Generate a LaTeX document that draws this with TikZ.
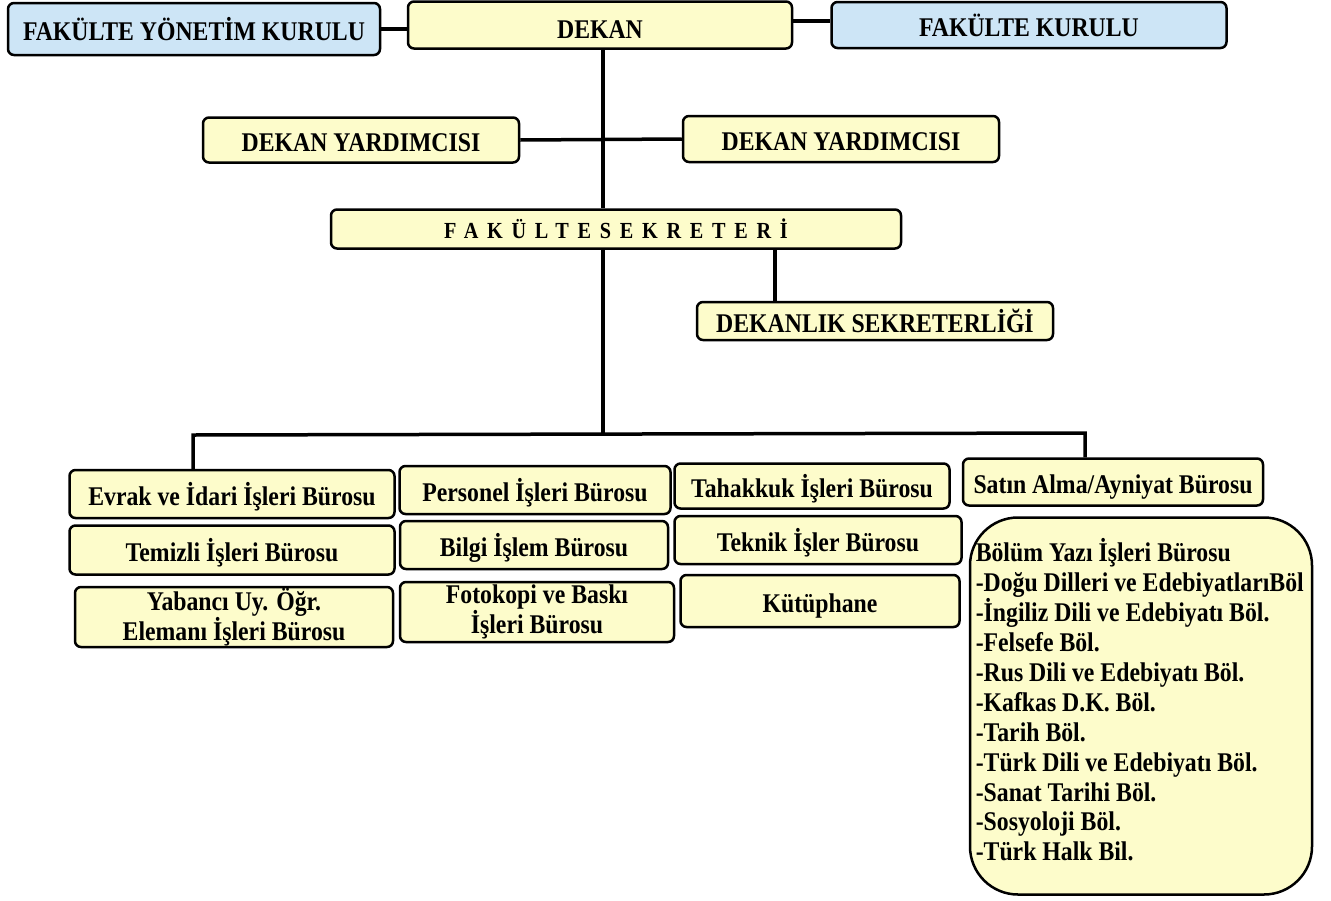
\documentclass[tikz,border=0pt]{standalone}
\usepackage{fontspec}
\setmainfont{Liberation Serif}[FakeStretch=0.88]
\definecolor{yel}{HTML}{FDFCCB}
\definecolor{blu}{HTML}{CDE5F6}
\begin{document}
\begin{tikzpicture}[x=1pt,y=-1pt,line width=3.5pt]
		\tikzset{unit/.style={draw,line width=2.5pt,rounded corners=6pt,fill=yel,
			inner sep=0pt,font=\bfseries\fontsize{27}{30}\selectfont,align=center}}
		\tikzset{row/.style={unit,text height=26pt,text depth=4pt}}
		\tikzset{board/.style={row,fill=blu}}
		\useasboundingbox (0,0) rectangle (1331,900);

		% top row
		\node[board,minimum width=372,minimum height=52](fyk) at (194,29){FAKÜLTE YÖNETİM KURULU};
		\node[row,minimum width=384,minimum height=47,text height=30pt](dekan) at (600,25){DEKAN};
		\node[board,minimum width=395,minimum height=46](fk) at (1029,25){FAKÜLTE KURULU};
		\draw (fyk.east) -- (dekan.west |- fyk.east);
		\draw (dekan.east |- 0,21) -- (fk.west |- 0,21);

		% yardimcilar, sekreter
		\node[row,minimum width=316,minimum height=45](dyl) at (361,140){DEKAN YARDIMCISI};
		\node[row,minimum width=316,minimum height=46](dyr) at (841,139){DEKAN YARDIMCISI};
		\node[unit,minimum width=570,minimum height=39,font=\bfseries\fontsize{23}{26}\selectfont\addfontfeature{LetterSpace=38}](fs) at (616,229){FAKÜLTESEKRETERİ};
		\node[row,minimum width=356,minimum height=38](ds) at (875,321){DEKANLIK SEKRETERLİĞİ};
		\draw (dekan.south -| 603,0) -- (fs.north -| 603,0);
		\draw (dyl.east) -- (dyr.west);
		\draw (fs.south -| 775,0) -- (ds.north -| 775,0);

		% bürolar
		\node[row,minimum width=325,minimum height=48](evrak) at (232,494){Evrak ve İdari İşleri Bürosu};
		\node[row,minimum width=271,minimum height=48](pers) at (535,490){Personel İşleri Bürosu};
		\node[row,minimum width=275,minimum height=45](tah) at (812,486){Tahakkuk İşleri Bürosu};
		\node[row,minimum width=300,minimum height=47](satin) at (1113,482){Satın Alma/Ayniyat Bürosu};
		\node[row,minimum width=325,minimum height=49](temiz) at (232,550){Temizli İşleri Bürosu};
		\node[row,minimum width=268,minimum height=48](bilgi) at (534,545){Bilgi İşlem Bürosu};
		\node[row,minimum width=287,minimum height=48](tek) at (818,540){Teknik İşler Bürosu};
		\node[unit,minimum width=318,minimum height=60](yab) at (234,617){Yabancı Uy. Öğr.\\Elemanı İşleri Bürosu};
		\node[unit,minimum width=274,minimum height=60](foto) at (537,612){Fotokopi ve Baskı\\İşleri Bürosu};
		\node[row,minimum width=279,minimum height=52](kut) at (820,601){Kütüphane};
		\node[unit,minimum width=342,minimum height=377,rounded corners=48pt](bolum) at (1141,706){};
		\node[anchor=north west,inner sep=0pt,align=left,font=\bfseries\fontsize{27}{29.9}\selectfont]
			(bolumtxt) at (974,537){Bölüm Yazı İşleri Bürosu\\-Doğu Dilleri ve EdebiyatlarıBöl\\-İngiliz Dili ve Edebiyatı Böl.\\-Felsefe Böl.\\-Rus Dili ve Edebiyatı Böl.\\-Kafkas D.K. Böl.\\-Tarih Böl.\\-Türk Dili ve Edebiyatı Böl.\\-Sanat Tarihi Böl.\\-Sosyoloji Böl.\\-Türk Halk Bil.};

		\coordinate (bus) at (603,435);
		\draw (fs.south -| bus) -- (bus);
		\draw (evrak.north -| 193,0) -- (193,435) -- (1085,433) -- (satin.north -| 1085,0);
	\end{tikzpicture}
\end{document}
